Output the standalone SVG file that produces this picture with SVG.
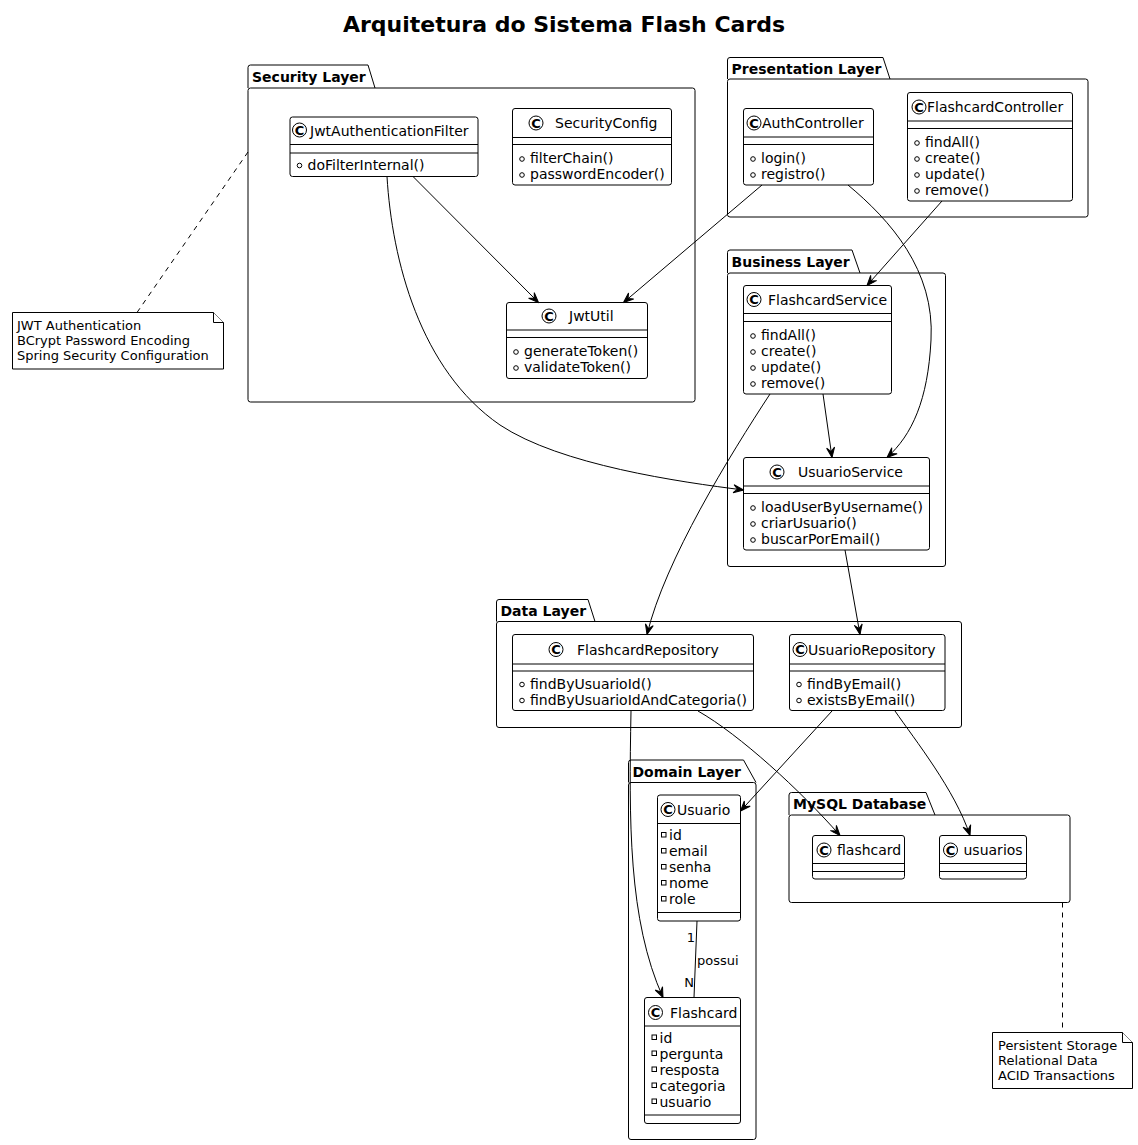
<svg xmlns="http://www.w3.org/2000/svg" width="1138" height="1145" viewBox="0 0 1138 1145">
<style>
.bg{fill:#fff}
.pkg{fill:none;stroke:#000;stroke-width:1}
.box{fill:#fff;stroke:#000;stroke-width:1}
.sep{stroke:#000;stroke-width:1}
.t{font-family:"DejaVu Sans","Liberation Sans",sans-serif;font-size:14px;fill:#000}
.pt{font-family:"DejaVu Sans","Liberation Sans",sans-serif;font-size:14px;font-weight:bold;fill:#000}
.n{font-family:"DejaVu Sans","Liberation Sans",sans-serif;font-size:13px;fill:#000}
.title{font-family:"DejaVu Sans","Liberation Sans",sans-serif;font-size:22px;font-weight:bold;fill:#000}
.sp{fill:#fff;stroke:#000;stroke-width:1}
.spc{font-family:"DejaVu Sans","Liberation Sans",sans-serif;font-size:13px;font-weight:bold;fill:#000;text-anchor:middle}
.pub{fill:none;stroke:#000;stroke-width:1}
.priv{fill:none;stroke:#000;stroke-width:1}
.edge{fill:none;stroke:#000;stroke-width:1}
.dash{fill:none;stroke:#000;stroke-width:1;stroke-dasharray:5,5}
.note{fill:#fff;stroke:#000;stroke-width:1}
</style>
<defs>
<marker id="arr" viewBox="-11 -5 12 10" refX="0" refY="0" markerWidth="12" markerHeight="10" orient="auto" markerUnits="userSpaceOnUse">
<path d="M0,0 L-10,-4 L-6,0 L-10,4 Z" fill="#000" stroke="#000" stroke-width="1"/>
</marker>
</defs>
<rect class="bg" x="0" y="0" width="1138" height="1145"/>
<text class="title" x="564" y="32" text-anchor="middle">Arquitetura do Sistema Flash Cards</text>

<!-- Packages -->
<g id="pkg-security">
<path class="pkg" d="M248,88 L248,67.5 Q248,65 250.5,65 L368,65 L375,88"/>
<rect class="pkg" x="248" y="88" width="447" height="314" rx="2.5"/>
<text class="pt" x="252" y="81.5">Security Layer</text>
</g>
<g id="pkg-presentation">
<path class="pkg" d="M727.5,79 L727.5,60 Q727.5,57.5 730,57.5 L883,57.5 L890,79"/>
<rect class="pkg" x="727.5" y="79" width="360.5" height="138" rx="2.5"/>
<text class="pt" x="731.5" y="74">Presentation Layer</text>
</g>
<g id="pkg-business">
<path class="pkg" d="M727.5,273 L727.5,252.5 Q727.5,250 730,250 L852,250 L860,273"/>
<rect class="pkg" x="727.5" y="273" width="218" height="293.5" rx="2.5"/>
<text class="pt" x="731.5" y="266.5">Business Layer</text>
</g>
<g id="pkg-data">
<path class="pkg" d="M496.5,621.5 L496.5,602 Q496.5,599.5 499,599.5 L588,599.5 L595,621.5"/>
<rect class="pkg" x="496.5" y="621.5" width="465" height="106" rx="2.5"/>
<text class="pt" x="500.5" y="616">Data Layer</text>
</g>
<g id="pkg-domain">
<path class="pkg" d="M628.5,782.5 L628.5,762.5 Q628.5,760 631,760 L743.5,760 L756,782.5"/>
<rect class="pkg" x="628.5" y="782.5" width="127.5" height="357" rx="2.5"/>
<text class="pt" x="632.5" y="776.5">Domain Layer</text>
</g>
<g id="pkg-mysql">
<path class="pkg" d="M789,815 L789,795 Q789,792.5 791.5,792.5 L926,792.5 L935,815"/>
<rect class="pkg" x="789" y="815" width="281" height="87.5" rx="2.5"/>
<text class="pt" x="793" y="809">MySQL Database</text>
</g>

<!-- Classes -->
<g id="JwtAuthenticationFilter">
<rect class="box" x="290" y="117" width="188" height="59.5" rx="2.5"/>
<circle class="sp" cx="299.5" cy="130" r="7"/><text class="spc" x="299.5" y="134.6">C</text>
<text class="t" x="310" y="136">JwtAuthenticationFilter</text>
<line class="sep" x1="290" y1="144.5" x2="478" y2="144.5"/>
<line class="sep" x1="290" y1="153" x2="478" y2="153"/>
<circle class="pub" cx="299.5" cy="165.5" r="2.3"/><text class="t" x="307.5" y="169.5">doFilterInternal()</text>
</g>
<g id="SecurityConfig">
<rect class="box" x="512.5" y="108.5" width="159" height="76.5" rx="2.5"/>
<circle class="sp" cx="536" cy="123" r="7"/><text class="spc" x="536" y="127.6">C</text>
<text class="t" x="555" y="128">SecurityConfig</text>
<line class="sep" x1="512.5" y1="137.5" x2="671.5" y2="137.5"/>
<line class="sep" x1="512.5" y1="144.5" x2="671.5" y2="144.5"/>
<circle class="pub" cx="522" cy="159" r="2.3"/><text class="t" x="530" y="163">filterChain()</text>
<circle class="pub" cx="522" cy="175" r="2.3"/><text class="t" x="530" y="179">passwordEncoder()</text>
</g>
<g id="JwtUtil">
<rect class="box" x="506.5" y="302.5" width="141" height="76" rx="2.5"/>
<circle class="sp" cx="549" cy="316" r="7"/><text class="spc" x="549" y="320.6">C</text>
<text class="t" x="569" y="321">JwtUtil</text>
<line class="sep" x1="506.5" y1="330" x2="647.5" y2="330"/>
<line class="sep" x1="506.5" y1="337.5" x2="647.5" y2="337.5"/>
<circle class="pub" cx="516" cy="352" r="2.3"/><text class="t" x="524" y="356">generateToken()</text>
<circle class="pub" cx="516" cy="368" r="2.3"/><text class="t" x="524" y="372">validateToken()</text>
</g>
<g id="AuthController">
<rect class="box" x="743.5" y="108.5" width="130" height="76.5" rx="2.5"/>
<circle class="sp" cx="754" cy="123" r="7"/><text class="spc" x="754" y="127.6">C</text>
<text class="t" x="762" y="128">AuthController</text>
<line class="sep" x1="743.5" y1="137" x2="873.5" y2="137"/>
<line class="sep" x1="743.5" y1="144.5" x2="873.5" y2="144.5"/>
<circle class="pub" cx="753" cy="159" r="2.3"/><text class="t" x="761" y="163">login()</text>
<circle class="pub" cx="753" cy="175" r="2.3"/><text class="t" x="761" y="179">registro()</text>
</g>
<g id="FlashcardController">
<rect class="box" x="907.5" y="92.5" width="165" height="108.5" rx="2.5"/>
<circle class="sp" cx="919" cy="107" r="7"/><text class="spc" x="919" y="111.6">C</text>
<text class="t" x="927" y="112">FlashcardController</text>
<line class="sep" x1="907.5" y1="121" x2="1072.5" y2="121"/>
<line class="sep" x1="907.5" y1="128.5" x2="1072.5" y2="128.5"/>
<circle class="pub" cx="917" cy="143" r="2.3"/><text class="t" x="925" y="147">findAll()</text>
<circle class="pub" cx="917" cy="159" r="2.3"/><text class="t" x="925" y="163">create()</text>
<circle class="pub" cx="917" cy="175" r="2.3"/><text class="t" x="925" y="179">update()</text>
<circle class="pub" cx="917" cy="191" r="2.3"/><text class="t" x="925" y="195">remove()</text>
</g>
<g id="FlashcardService">
<rect class="box" x="743.5" y="285.5" width="148" height="108.5" rx="2.5"/>
<circle class="sp" cx="754" cy="299.5" r="7"/><text class="spc" x="754" y="304.1">C</text>
<text class="t" x="768" y="304.5">FlashcardService</text>
<line class="sep" x1="743.5" y1="313.5" x2="891.5" y2="313.5"/>
<line class="sep" x1="743.5" y1="321.5" x2="891.5" y2="321.5"/>
<circle class="pub" cx="753" cy="336" r="2.3"/><text class="t" x="761" y="340">findAll()</text>
<circle class="pub" cx="753" cy="352" r="2.3"/><text class="t" x="761" y="356">create()</text>
<circle class="pub" cx="753" cy="368" r="2.3"/><text class="t" x="761" y="372">update()</text>
<circle class="pub" cx="753" cy="384" r="2.3"/><text class="t" x="761" y="388">remove()</text>
</g>
<g id="UsuarioService">
<rect class="box" x="743.5" y="457.5" width="186" height="92.5" rx="2.5"/>
<circle class="sp" cx="777" cy="472" r="7"/><text class="spc" x="777" y="476.6">C</text>
<text class="t" x="798" y="477">UsuarioService</text>
<line class="sep" x1="743.5" y1="486" x2="929.5" y2="486"/>
<line class="sep" x1="743.5" y1="493.5" x2="929.5" y2="493.5"/>
<circle class="pub" cx="753" cy="508" r="2.3"/><text class="t" x="761" y="512">loadUserByUsername()</text>
<circle class="pub" cx="753" cy="524" r="2.3"/><text class="t" x="761" y="528">criarUsuario()</text>
<circle class="pub" cx="753" cy="540" r="2.3"/><text class="t" x="761" y="544">buscarPorEmail()</text>
</g>
<g id="FlashcardRepository">
<rect class="box" x="512.5" y="634.5" width="241" height="76" rx="2.5"/>
<circle class="sp" cx="556" cy="649.5" r="7"/><text class="spc" x="556" y="654.1">C</text>
<text class="t" x="577" y="654.5">FlashcardRepository</text>
<line class="sep" x1="512.5" y1="664" x2="753.5" y2="664"/>
<line class="sep" x1="512.5" y1="671" x2="753.5" y2="671"/>
<circle class="pub" cx="522" cy="684.5" r="2.3"/><text class="t" x="530" y="688.5">findByUsuarioId()</text>
<circle class="pub" cx="522" cy="700.5" r="2.3"/><text class="t" x="530" y="704.5">findByUsuarioIdAndCategoria()</text>
</g>
<g id="UsuarioRepository">
<rect class="box" x="789.5" y="634.5" width="155.5" height="76" rx="2.5"/>
<circle class="sp" cx="800" cy="649.5" r="7"/><text class="spc" x="800" y="654.1">C</text>
<text class="t" x="808" y="654.5">UsuarioRepository</text>
<line class="sep" x1="789.5" y1="664" x2="945" y2="664"/>
<line class="sep" x1="789.5" y1="671" x2="945" y2="671"/>
<circle class="pub" cx="799" cy="684.5" r="2.3"/><text class="t" x="807" y="688.5">findByEmail()</text>
<circle class="pub" cx="799" cy="700.5" r="2.3"/><text class="t" x="807" y="704.5">existsByEmail()</text>
</g>
<g id="Usuario">
<rect class="box" x="657.5" y="795" width="83" height="126" rx="2.5"/>
<circle class="sp" cx="668" cy="809.5" r="7"/><text class="spc" x="668" y="814.1">C</text>
<text class="t" x="677" y="814.5">Usuario</text>
<line class="sep" x1="657.5" y1="823.5" x2="740.5" y2="823.5"/>
<rect class="priv" x="661.5" y="832.5" width="4.5" height="4.5"/><text class="t" x="669" y="840">id</text>
<rect class="priv" x="661.5" y="848.5" width="4.5" height="4.5"/><text class="t" x="669" y="856">email</text>
<rect class="priv" x="661.5" y="864.5" width="4.5" height="4.5"/><text class="t" x="669" y="872">senha</text>
<rect class="priv" x="661.5" y="880.5" width="4.5" height="4.5"/><text class="t" x="669" y="888">nome</text>
<rect class="priv" x="661.5" y="896.5" width="4.5" height="4.5"/><text class="t" x="669" y="904">role</text>
<line class="sep" x1="657.5" y1="912.5" x2="740.5" y2="912.5"/>
</g>
<g id="Flashcard">
<rect class="box" x="644.5" y="997.5" width="96" height="126" rx="2.5"/>
<circle class="sp" cx="655.5" cy="1012.5" r="7"/><text class="spc" x="655.5" y="1017.1">C</text>
<text class="t" x="670" y="1017.5">Flashcard</text>
<line class="sep" x1="644.5" y1="1026" x2="740.5" y2="1026"/>
<rect class="priv" x="652" y="1035" width="4.5" height="4.5"/><text class="t" x="659.5" y="1042.5">id</text>
<rect class="priv" x="652" y="1051" width="4.5" height="4.5"/><text class="t" x="659.5" y="1058.5">pergunta</text>
<rect class="priv" x="652" y="1067" width="4.5" height="4.5"/><text class="t" x="659.5" y="1074.5">resposta</text>
<rect class="priv" x="652" y="1083" width="4.5" height="4.5"/><text class="t" x="659.5" y="1090.5">categoria</text>
<rect class="priv" x="652" y="1099" width="4.5" height="4.5"/><text class="t" x="659.5" y="1106.5">usuario</text>
<line class="sep" x1="644.5" y1="1115" x2="740.5" y2="1115"/>
</g>
<g id="flashcard">
<rect class="box" x="812.5" y="835.5" width="92" height="43.5" rx="2.5"/>
<circle class="sp" cx="824" cy="850" r="7"/><text class="spc" x="824" y="854.6">C</text>
<text class="t" x="837" y="855">flashcard</text>
<line class="sep" x1="812.5" y1="863.5" x2="904.5" y2="863.5"/>
<line class="sep" x1="812.5" y1="871.5" x2="904.5" y2="871.5"/>
</g>
<g id="usuarios">
<rect class="box" x="939.5" y="835.5" width="87" height="43.5" rx="2.5"/>
<circle class="sp" cx="950.5" cy="850" r="7"/><text class="spc" x="950.5" y="854.6">C</text>
<text class="t" x="963.5" y="855">usuarios</text>
<line class="sep" x1="939.5" y1="863.5" x2="1026.5" y2="863.5"/>
<line class="sep" x1="939.5" y1="871.5" x2="1026.5" y2="871.5"/>
</g>

<!-- Connectors -->
<g id="connectors">
<path class="edge" marker-end="url(#arr)" d="M413,176.5 L538.5,302.5"/>
<path class="edge" marker-end="url(#arr)" d="M762,185 L623.5,302.5"/>
<path class="edge" marker-end="url(#arr)" d="M387,176.5 C392,260 420,370 500,425 C560,465 680,482 743.5,490"/>
<path class="edge" marker-end="url(#arr)" d="M848,185 C890,220 935,270 931,340 C928,400 912,435 887,457.5"/>
<path class="edge" marker-end="url(#arr)" d="M942,201 L867,285.5"/>
<path class="edge" marker-end="url(#arr)" d="M823,394 L832,457.5"/>
<path class="edge" marker-end="url(#arr)" d="M770,394 C730,455 665,560 647,634.5"/>
<path class="edge" marker-end="url(#arr)" d="M845,550 L860,634.5"/>
<path class="edge" marker-end="url(#arr)" d="M631,711 C629,820 628,920 663,997.5"/>
<path class="edge" marker-end="url(#arr)" d="M698,711 C740,735 800,790 840,835.5"/>
<path class="edge" marker-end="url(#arr)" d="M832,711 L740.5,811"/>
<path class="edge" marker-end="url(#arr)" d="M895,711 C915,740 955,790 970,835.5"/>
<path class="edge" d="M697,921 L694,997.5"/>
<text class="n" x="695" y="941.5" text-anchor="end">1</text>
<text class="n" x="697" y="965">possui</text>
<text class="n" x="694" y="986.5" text-anchor="end">N</text>
<path class="dash" d="M248,152 L137,312.5"/>
<path class="dash" d="M1062.5,902.5 L1062.5,1032.5"/>
</g>

<!-- Notes -->
<g id="note-security">
<path class="note" d="M12.5,312.5 L213.5,312.5 L223.5,322.5 L223.5,369 L12.5,369 Z"/>
<path class="note" d="M213.5,312.5 L213.5,322.5 L223.5,322.5"/>
<text class="n" x="17" y="329.5">JWT Authentication</text>
<text class="n" x="17" y="344.5">BCrypt Password Encoding</text>
<text class="n" x="17" y="359.5">Spring Security Configuration</text>
</g>
<g id="note-mysql">
<path class="note" d="M992.5,1032.5 L1122.5,1032.5 L1132.5,1042.5 L1132.5,1088.5 L992.5,1088.5 Z"/>
<path class="note" d="M1122.5,1032.5 L1122.5,1042.5 L1132.5,1042.5"/>
<text class="n" x="998" y="1050">Persistent Storage</text>
<text class="n" x="998" y="1065">Relational Data</text>
<text class="n" x="998" y="1080">ACID Transactions</text>
</g>
</svg>
